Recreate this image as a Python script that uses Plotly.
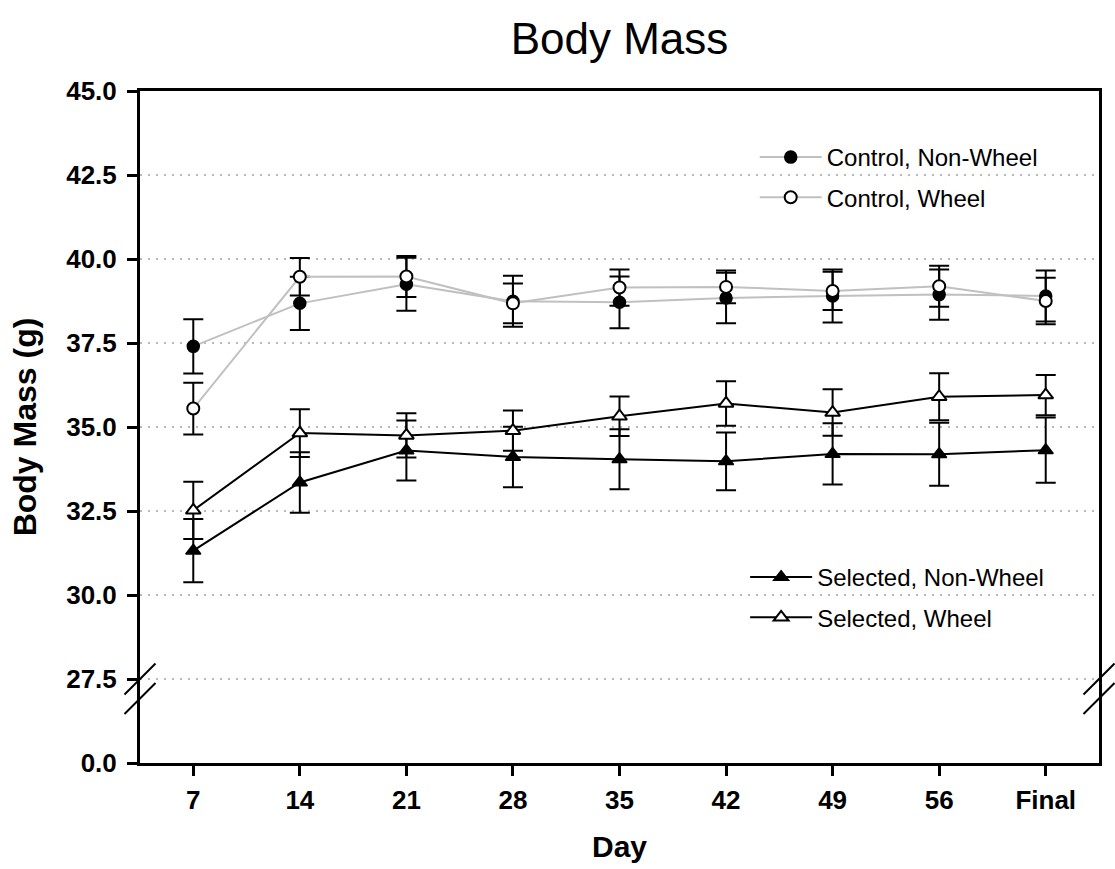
import plotly.graph_objects as go

days = ["7", "14", "21", "28", "35", "42", "49", "56", "Final"]

ctrl_nonwheel = [37.40, 38.68, 39.25, 38.74, 38.71, 38.84, 38.90, 38.94, 38.90]
ctrl_nonwheel_err = [0.81, 0.79, 0.79, 0.76, 0.77, 0.75, 0.79, 0.75, 0.76]
ctrl_wheel = [35.55, 39.47, 39.48, 38.68, 39.15, 39.17, 39.05, 39.19, 38.75]
ctrl_wheel_err = [0.77, 0.56, 0.61, 0.59, 0.54, 0.49, 0.57, 0.61, 0.69]
sel_nonwheel = [31.32, 33.35, 34.30, 34.11, 34.04, 33.98, 34.20, 34.19, 34.31]
sel_nonwheel_err = [0.94, 0.90, 0.89, 0.90, 0.89, 0.86, 0.91, 0.94, 0.97]
sel_wheel = [32.52, 34.82, 34.75, 34.89, 35.32, 35.70, 35.43, 35.90, 35.95]
sel_wheel_err = [0.85, 0.71, 0.66, 0.60, 0.59, 0.66, 0.69, 0.70, 0.60]

# broken axis: the bottom tick stands for 0.0
y_tick_vals = [25, 27.5, 30, 32.5, 35, 37.5, 40, 42.5, 45]
y_tick_text = ["0.0", "27.5", "30.0", "32.5", "35.0", "37.5", "40.0", "42.5", "45.0"]

FONT = "Liberation Sans, Arial, Helvetica, sans-serif"
GRAY = "#c0c0c0"


def err(vals):
    return dict(type="data", array=vals, visible=True, color="black",
                thickness=2, width=10)


fig = go.Figure()
fig.add_trace(go.Scatter(
    x=days, y=ctrl_nonwheel, name="Control, Non-Wheel", mode="lines+markers",
    line=dict(color=GRAY, width=2),
    marker=dict(symbol="circle", size=12, color="black",
                line=dict(color="black", width=1.5)),
    error_y=err(ctrl_nonwheel_err), legend="legend", legendgroup="a"))
fig.add_trace(go.Scatter(
    x=days, y=ctrl_wheel, name="Control, Wheel", mode="lines+markers",
    line=dict(color=GRAY, width=2),
    marker=dict(symbol="circle", size=12, color="white",
                line=dict(color="black", width=2)),
    error_y=err(ctrl_wheel_err), legend="legend", legendgroup="b"))
fig.add_trace(go.Scatter(
    x=days, y=sel_nonwheel, name="Selected, Non-Wheel", mode="lines+markers",
    line=dict(color="black", width=2),
    marker=dict(symbol="triangle-up", size=13, color="black",
                line=dict(color="black", width=1.5)),
    error_y=err(sel_nonwheel_err), legend="legend2", legendgroup="c"))
fig.add_trace(go.Scatter(
    x=days, y=sel_wheel, name="Selected, Wheel", mode="lines+markers",
    line=dict(color="black", width=2),
    marker=dict(symbol="triangle-up", size=13, color="white",
                line=dict(color="black", width=2)),
    error_y=err(sel_wheel_err), legend="legend2", legendgroup="d"))

# axis-break marks on both sides
shapes = []
for xa in (0, 1):
    for ya in (27.5, 26.92):
        shapes.append(dict(type="line", xref="paper", yref="y",
                           xsizemode="pixel", ysizemode="pixel",
                           xanchor=xa, yanchor=ya,
                           x0=-15.5, x1=15.5, y0=-15.5, y1=15.5,
                           line=dict(color="black", width=2), layer="above"))

legend_common = dict(font=dict(family=FONT, size=24, color="black"),
                     bgcolor="rgba(0,0,0,0)", borderwidth=0,
                     xanchor="left", yanchor="top", tracegroupgap=6,
                     itemwidth=62)

fig.update_layout(
    width=1115, height=869,
    margin=dict(l=140, r=16, t=91, b=106),
    paper_bgcolor="white", plot_bgcolor="white",
    font=dict(family=FONT, color="black"),
    title=dict(text="Body Mass", font=dict(family=FONT, size=44, color="black"),
               x=0.5, xref="paper", xanchor="center",
               y=1 - 39 / 869, yref="container", yanchor="middle"),
    xaxis=dict(type="category", range=[-0.5, 8.5],
               showline=True, linecolor="black", linewidth=3, mirror=True,
               ticks="outside", ticklen=10, tickwidth=3, tickcolor="black",
               ticklabelstandoff=2,
               showgrid=False, zeroline=False,
               tickfont=dict(family=FONT, size=26, color="black", weight="bold"),
               title=dict(text="Day", standoff=22,
                          font=dict(family=FONT, size=30, color="black", weight="bold"))),
    yaxis=dict(range=[25, 45], tickmode="array", tickvals=y_tick_vals,
               ticktext=y_tick_text,
               showline=True, linecolor="black", linewidth=3, mirror=True,
               ticks="outside", ticklen=10, tickwidth=3, tickcolor="black",
               ticklabelstandoff=5,
               showgrid=True, gridcolor="#b8b8b8", gridwidth=1.5,
               griddash="2px,6px", zeroline=False,
               tickfont=dict(family=FONT, size=26, color="black", weight="bold"),
               title=dict(text="Body Mass (g)", standoff=20,
                          font=dict(family=FONT, size=32, color="black", weight="bold"))),
    legend=dict(x=0.641, y=0.9345, **legend_common),
    legend2=dict(x=0.631, y=0.3095, **legend_common),
    shapes=shapes,
    showlegend=True,
)

fig.write_html("out.html")
